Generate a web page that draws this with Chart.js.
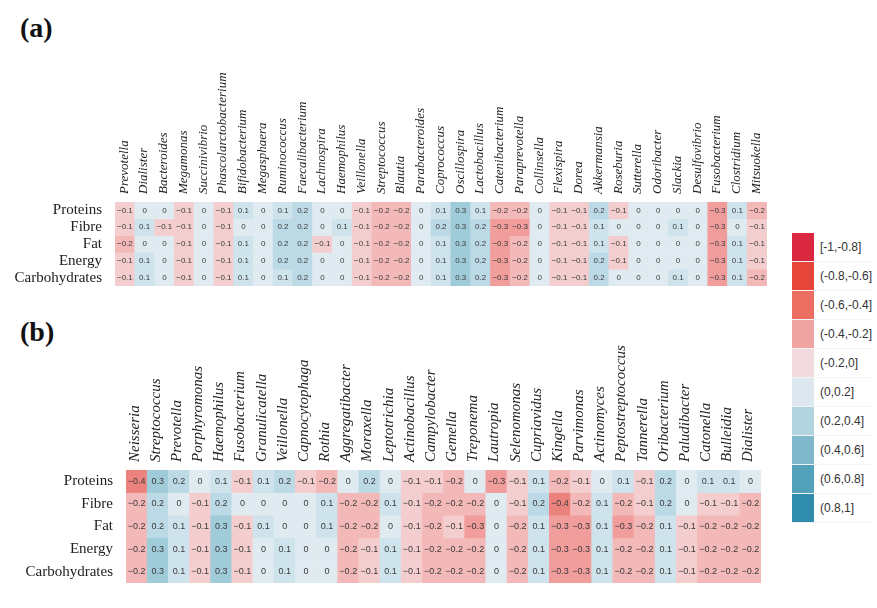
<!DOCTYPE html>
<html>
<head>
<meta charset="utf-8">
<script src="https://cdn.jsdelivr.net/npm/chart.js@4.4.1/dist/chart.umd.min.js"></script>
<style>
  body { margin: 0; background: #fff; width: 877px; height: 608px; position: relative; overflow: hidden; }
  canvas { position: absolute; left: 0; }
  .tag { position: absolute; left: 20px; font: bold 28px "Liberation Serif", serif; color: #111; }
  #legend { position: absolute; left: 792px; top: 233px; }
  .lg { height: 28px; display: flex; align-items: center; border-bottom: 1px solid #f4f4f4; }
  .sw { width: 22px; height: 28px; }
  .lt { margin-left: 6px; font: 12px "Liberation Sans", sans-serif; color: #333; }
</style>
</head>
<body>
<div class="tag" style="top:12px">(a)</div>
<div class="tag" style="top:316px">(b)</div>
<canvas id="chartA" width="780" height="300" style="top:0"></canvas>
<canvas id="chartB" width="780" height="308" style="top:300px"></canvas>
<div id="legend"></div>
<script>
const nutrients = ['Proteins', 'Fibre', 'Fat', 'Energy', 'Carbohydrates'];

// panel (a) - gut genera
const generaA = ['Prevotella', 'Dialister', 'Bacteroides', 'Megamonas', 'Succinivibrio', 'Phascolarctobacterium',
  'Bifidobacterium', 'Megasphaera', 'Ruminococcus', 'Faecalibacterium', 'Lachnospira', 'Haemophilus',
  'Veillonella', 'Streptococcus', 'Blautia', 'Parabacteroides', 'Coprococcus', 'Oscillospira', 'Lactobacillus',
  'Catenibacterium', 'Paraprevotella', 'Collinsella', 'Flexispira', 'Dorea', 'Akkermansia', 'Roseburia',
  'Sutterella', 'Odoribacter', 'Slackia', 'Desulfovibrio', 'Fusobacterium', 'Clostridium', 'Mitsuokella'];
const aProteins = [-0.1, 0, 0, -0.1, 0, -0.1, 0.1, 0, 0.1, 0.2, 0, 0, -0.1, -0.2, -0.2, 0, 0.1, 0.3, 0.1, -0.2, -0.2, 0, -0.1, -0.1, 0.2, -0.1, 0, 0, 0, 0, -0.3, 0.1, -0.2];
const aFibre = [-0.1, 0.1, -0.1, -0.1, 0, -0.1, 0, 0, 0.2, 0.2, 0, 0.1, -0.1, -0.2, -0.2, 0, 0.2, 0.3, 0.2, -0.3, -0.3, 0, -0.1, -0.1, 0.1, 0, 0, 0, 0.1, 0, -0.3, 0, -0.1];
const aFat = [-0.2, 0, 0, -0.1, 0, -0.1, 0.1, 0, 0.2, 0.2, -0.1, 0, -0.1, -0.2, -0.2, 0, 0.1, 0.3, 0.2, -0.3, -0.2, 0, -0.1, -0.1, 0.1, -0.1, 0, 0, 0, 0, -0.3, 0.1, -0.1];
const aEnergy = [-0.1, 0.1, 0, -0.1, 0, -0.1, 0.1, 0, 0.2, 0.2, 0, 0, -0.1, -0.2, -0.2, 0, 0.1, 0.3, 0.2, -0.3, -0.2, 0, -0.1, -0.1, 0.2, -0.1, 0, 0, 0, 0, -0.3, 0.1, -0.1];
const aCarbs = [-0.1, 0.1, 0, -0.1, 0, -0.1, 0.1, 0, 0.1, 0.2, 0, 0, -0.1, -0.2, -0.2, 0, 0.1, 0.3, 0.2, -0.3, -0.2, 0, -0.1, -0.1, 0.2, 0, 0, 0, 0.1, 0, -0.3, 0.1, -0.2];

// panel (b) - oral genera
const generaB = ['Neisseria', 'Streptococcus', 'Prevotella', 'Porphyromonas', 'Haemophilus', 'Fusobacterium',
  'Granulicatella', 'Veillonella', 'Capnocytophaga', 'Rothia', 'Aggregatibacter', 'Moraxella', 'Leptotrichia',
  'Actinobacillus', 'Campylobacter', 'Gemella', 'Treponema', 'Lautropia', 'Selenomonas', 'Cupriavidus',
  'Kingella', 'Parvimonas', 'Actinomyces', 'Peptostreptococcus', 'Tannerella', 'Oribacterium', 'Paludibacter',
  'Catonella', 'Bulleidia', 'Dialister'];
const bProteins = [-0.4, 0.3, 0.2, 0, 0.1, -0.1, 0.1, 0.2, -0.1, -0.2, 0, 0.2, 0, -0.1, -0.1, -0.2, 0, -0.3, -0.1, 0.1, -0.2, -0.1, 0, 0.1, -0.1, 0.2, 0, 0.1, 0.1, 0];
const bFibre = [-0.2, 0.2, 0, -0.1, 0.2, 0, 0, 0, 0, 0.1, -0.2, -0.2, 0.1, -0.1, -0.2, -0.2, -0.2, 0, -0.1, 0.2, -0.4, -0.2, 0.1, -0.2, -0.1, 0.2, 0, -0.1, -0.1, -0.2];
const bFat = [-0.2, 0.2, 0.1, -0.1, 0.3, -0.1, 0.1, 0, 0, 0.1, -0.2, -0.2, 0, -0.1, -0.2, -0.1, -0.3, 0, -0.2, 0.1, -0.3, -0.3, 0.1, -0.3, -0.2, 0.1, -0.1, -0.2, -0.2, -0.2];
const bEnergy = [-0.2, 0.3, 0.1, -0.1, 0.3, -0.1, 0, 0.1, 0, 0, -0.2, -0.1, 0.1, -0.1, -0.2, -0.2, -0.2, 0, -0.2, 0.1, -0.3, -0.3, 0.1, -0.2, -0.2, 0.1, -0.1, -0.2, -0.2, -0.2];
const bCarbs = [-0.2, 0.3, 0.1, -0.1, 0.3, -0.1, 0, 0.1, 0, 0, -0.2, -0.1, 0.1, -0.1, -0.2, -0.2, -0.2, 0, -0.2, 0.1, -0.3, -0.3, 0.1, -0.2, -0.2, 0.1, -0.1, -0.2, -0.2, -0.2];

const legendLabels = ['[-1,-0.8]', '(-0.8,-0.6]', '(-0.6,-0.4]', '(-0.4,-0.2]', '(-0.2,0]',
  '(0,0.2]', '(0.2,0.4]', '(0.4,0.6]', '(0.6,0.8]', '(0.8,1]'];
const legendColors = ['#d9283f', '#e6463a', '#ec6e62', '#f0a4a2', '#f1dadd', '#dde8ee', '#b2d4df', '#7fb8cb', '#52a2bc', '#2f8dab'];

// colour stops for |r| = 0, 0.2, ... 1
const negStops = [[244, 228, 230], [243, 184, 184], [236, 130, 126], [234, 100, 92], [228, 62, 54], [215, 36, 58]];
const posStops = [[224, 235, 241], [188, 218, 229], [132, 190, 207], [96, 170, 193], [62, 150, 180], [40, 135, 167]];

function cellColor(v) {
  const stops = v < 0 ? negStops : posStops;
  const t = Math.min(Math.abs(v), 1) * 5;
  const i = Math.min(Math.floor(t), 4);
  const f = t - i;
  const c = stops[i].map((s, k) => Math.round(s + (stops[i + 1][k] - s) * f));
  return `rgb(${c[0]},${c[1]},${c[2]})`;
}

const cellText = {
  id: 'cellText',
  afterDatasetsDraw(chart, args, opts) {
    const ctx = chart.ctx;
    ctx.save();
    ctx.font = opts.size + 'px "Liberation Sans", sans-serif';
    ctx.fillStyle = '#3a3a3a';
    ctx.textAlign = 'center';
    ctx.textBaseline = 'middle';
    chart.data.datasets.forEach((ds, di) => {
      chart.getDatasetMeta(di).data.forEach((bar, i) => {
        const v = ds.values[i];
        const s = v === 0 ? '0' : String(v).replace('-', '\u2212');
        ctx.fillText(s, bar.x, (bar.y + bar.base) / 2);
      });
    });
    ctx.restore();
  }
};

function makeChart(id, genera, rows, o) {
  new Chart(document.getElementById(id), {
    type: 'bar',
    data: {
      labels: genera,
      datasets: rows.map((vals, r) => ({
        label: nutrients[r],
        values: vals,
        data: vals.map(() => [r - 0.5, r + 0.5]),
        backgroundColor: vals.map(cellColor),
        borderWidth: 0,
        barPercentage: 1,
        categoryPercentage: 1,
        grouped: false
      }))
    },
    options: {
      responsive: false,
      animation: false,
      layout: { padding: o.padding },
      plugins: {
        legend: { display: false },
        tooltip: { enabled: false },
        cellText: { size: o.numSize }
      },
      scales: {
        x: {
          position: 'top',
          grid: { display: false },
          border: { display: false },
          ticks: {
            autoSkip: false, minRotation: 90, maxRotation: 90, padding: o.colPad, labelOffset: o.colShift, color: '#222',
            font: { family: '"Liberation Serif", serif', style: 'italic', size: o.colSize }
          },
          afterFit: s => { s.height = o.axisH; }
        },
        y: {
          type: 'linear',
          reverse: true,
          min: -0.5,
          max: 4.5,
          grid: { display: false },
          border: { display: false },
          afterBuildTicks: s => { s.ticks = nutrients.map((n, i) => ({ value: i })); },
          ticks: {
            autoSkip: false, padding: 5, color: '#222',
            font: { family: '"Liberation Serif", serif', size: o.rowSize },
            callback: v => nutrients[v] || ''
          },
          afterFit: s => { s.width = o.axisW; }
        }
      }
    },
    plugins: [cellText]
  });
}

makeChart('chartA', generaA, [aProteins, aFibre, aFat, aEnergy, aCarbs],
  { padding: { left: 0, right: 13, top: 0, bottom: 6 }, axisH: 202, axisW: 115, colSize: 13, colPad: 0, colShift: 15, rowSize: 15, numSize: 8 });
makeChart('chartB', generaB, [bProteins, bFibre, bFat, bEnergy, bCarbs],
  { padding: { left: 0, right: 19, top: 0, bottom: 25 }, axisH: 170, axisW: 126, colSize: 15, colPad: 0, colShift: 16, rowSize: 15, numSize: 9 });

const lg = document.getElementById('legend');
legendLabels.forEach((t, i) => {
  const row = document.createElement('div');
  row.className = 'lg';
  row.innerHTML = `<div class="sw" style="background:${legendColors[i]}"></div><div class="lt">${t}</div>`;
  lg.appendChild(row);
});
</script>
</body>
</html>
